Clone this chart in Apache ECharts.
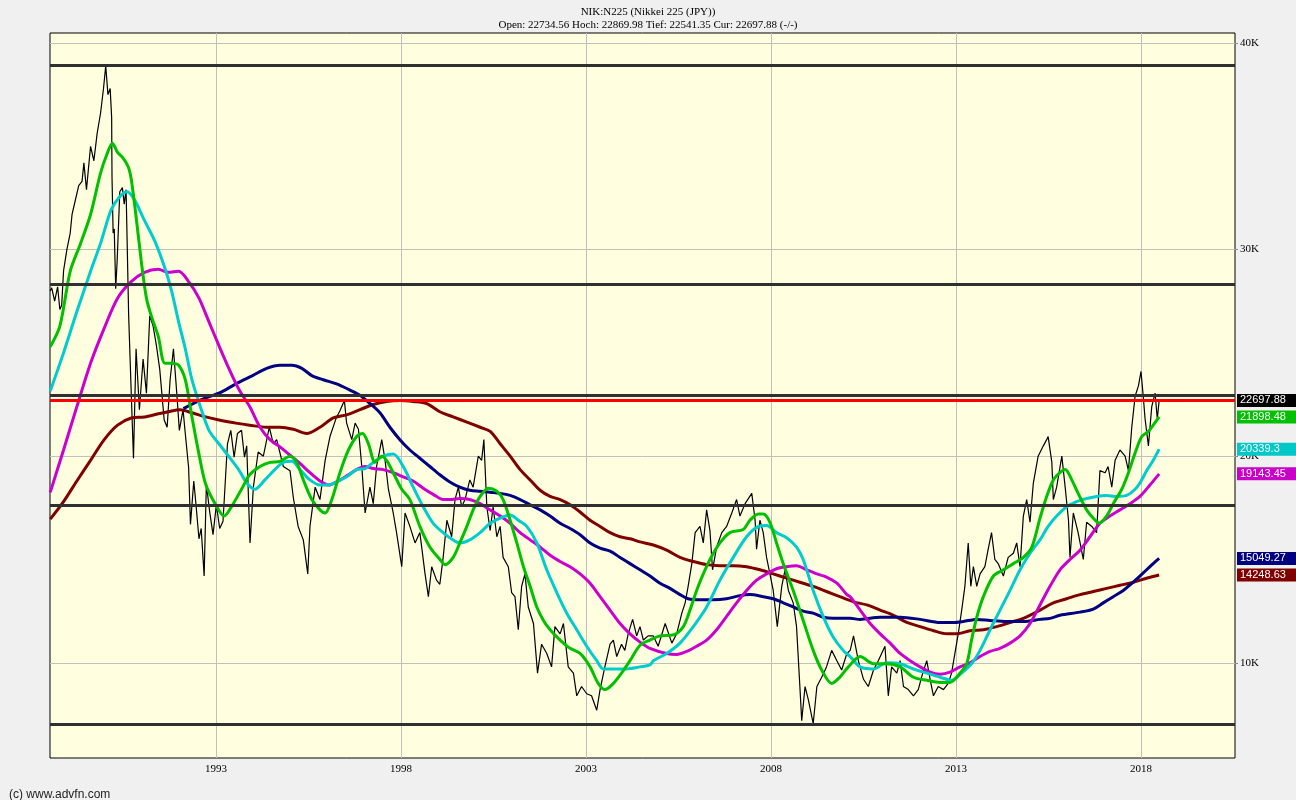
<!DOCTYPE html>
<html><head><meta charset="utf-8">
<script src="https://cdn.jsdelivr.net/npm/echarts@6/dist/echarts.min.js"></script>
<style>html,body{margin:0;padding:0;background:#f0f0f0}#c{width:1296px;height:800px}</style>
</head><body><div id="c"></div>
<script>
// ---- data (years as decimals, values in index points) ----
const xTickYears = [1993, 1998, 2003, 2008, 2013, 2018];
const yTickValues = [10000, 20000, 30000, 40000];
const levelLines = [38916, 28300, 22970, 17640, 7000];
const currentPrice = 22697.88;
const lastLabels = ['22697.88', '21898.48', '20339.3', '19143.45', '15049.27', '14248.63'];
const titleLine1 = 'NIK:N225 (Nikkei 225 (JPY))';
const titleLine2 = 'Open: 22734.56 Hoch: 22869.98 Tief: 22541.35 Cur: 22697.88 (-/-)';

const price = [
[1988.52,28000],[1988.56,28150],[1988.64,27500],[1988.72,28200],[1988.78,27100],[1988.83,27300],[1988.88,28970],[1988.97,30000],[1989.06,30800],[1989.11,31700],[1989.20,32400],[1989.29,33100],[1989.38,33300],[1989.43,34200],[1989.50,32900],[1989.61,35000],[1989.70,34300],[1989.79,35650],[1989.88,36600],[1989.96,37800],[1990.02,38900],[1990.08,37500],[1990.14,37800],[1990.18,36400],[1990.19,33500],[1990.22,30800],[1990.25,31000],[1990.29,28100],[1990.33,29500],[1990.40,32800],[1990.47,33000],[1990.52,32200],[1990.57,32900],[1990.64,26800],[1990.71,23050],[1990.77,19900],[1990.84,25200],[1990.93,22250],[1991.03,24700],[1991.12,23050],[1991.21,26800],[1991.30,26300],[1991.39,25350],[1991.48,24200],[1991.60,21750],[1991.68,21400],[1991.76,23700],[1991.85,25200],[1991.94,23050],[1992.01,21250],[1992.11,22250],[1992.17,21100],[1992.26,19450],[1992.31,16700],[1992.40,18800],[1992.46,17650],[1992.54,16000],[1992.60,16500],[1992.68,14200],[1992.74,18650],[1992.83,17300],[1992.92,16200],[1993.01,17650],[1993.10,16500],[1993.19,16850],[1993.31,20600],[1993.40,21250],[1993.49,19950],[1993.58,21100],[1993.69,21250],[1993.77,19950],[1993.83,20500],[1993.92,15800],[1994.01,18500],[1994.14,20200],[1994.28,20000],[1994.44,21400],[1994.55,20600],[1994.64,20800],[1994.82,19500],[1995.00,19300],[1995.09,18000],[1995.22,16600],[1995.36,15950],[1995.48,14300],[1995.54,16600],[1995.68,18500],[1995.81,17900],[1995.95,19800],[1996.08,20950],[1996.26,21900],[1996.35,22200],[1996.47,22700],[1996.53,21600],[1996.67,20800],[1996.76,21600],[1996.85,21300],[1996.94,19500],[1997.03,17250],[1997.16,18500],[1997.25,17700],[1997.34,19500],[1997.48,20800],[1997.57,19800],[1997.66,18400],[1997.79,17250],[1997.88,16300],[1998.02,14650],[1998.11,17250],[1998.24,16600],[1998.38,15800],[1998.51,16300],[1998.65,14300],[1998.74,13200],[1998.83,14650],[1998.96,14000],[1999.05,13800],[1999.14,15100],[1999.24,16900],[1999.37,16100],[1999.46,17900],[1999.55,18500],[1999.64,17550],[1999.73,17900],[1999.86,18850],[1999.95,18500],[2000.09,20000],[2000.18,19800],[2000.24,20800],[2000.32,17550],[2000.41,16400],[2000.49,17550],[2000.59,16100],[2000.68,16600],[2000.76,15100],[2000.90,14650],[2000.99,13400],[2001.08,13200],[2001.17,11600],[2001.26,13700],[2001.35,14300],[2001.44,12700],[2001.58,11900],[2001.69,9500],[2001.80,10900],[2001.94,10450],[2002.07,9800],[2002.16,11750],[2002.30,11400],[2002.39,11900],[2002.52,9800],[2002.66,9500],[2002.75,8400],[2002.88,8850],[2003.02,8500],[2003.15,8400],[2003.29,7700],[2003.38,8700],[2003.51,9800],[2003.65,10900],[2003.74,11100],[2003.83,10300],[2003.96,10900],[2004.05,10600],[2004.14,11400],[2004.26,12100],[2004.37,11300],[2004.46,11750],[2004.55,11100],[2004.68,11300],[2004.82,11300],[2004.95,10800],[2005.14,11900],[2005.32,10950],[2005.45,11400],[2005.59,12400],[2005.68,12900],[2005.76,13700],[2005.86,14800],[2005.95,16300],[2006.08,16600],[2006.17,15800],[2006.26,17400],[2006.35,16400],[2006.42,14500],[2006.53,15600],[2006.67,16300],[2006.80,16600],[2006.94,17250],[2007.07,17900],[2007.16,17100],[2007.30,17700],[2007.48,18200],[2007.57,16900],[2007.61,15500],[2007.70,16900],[2007.79,16300],[2007.88,15100],[2007.97,14300],[2008.06,13500],[2008.17,11750],[2008.29,13700],[2008.38,14500],[2008.47,13500],[2008.60,12900],[2008.69,11750],[2008.78,8850],[2008.83,7200],[2008.92,8850],[2009.01,8200],[2009.14,7050],[2009.24,8850],[2009.37,9300],[2009.50,9800],[2009.64,10600],[2009.78,10100],[2009.91,9650],[2010.05,10450],[2010.14,10600],[2010.23,11300],[2010.36,10100],[2010.50,9200],[2010.63,8850],[2010.77,9650],[2010.90,10100],[2011.08,10800],[2011.17,8400],[2011.26,9800],[2011.40,9500],[2011.49,10100],[2011.58,8850],[2011.71,8700],[2011.85,8400],[2011.98,8700],[2012.10,9500],[2012.21,10100],[2012.30,9200],[2012.39,8400],[2012.52,8850],[2012.66,8700],[2012.79,9000],[2012.88,9500],[2012.97,10450],[2013.06,11400],[2013.15,12500],[2013.24,13700],[2013.33,15800],[2013.40,13700],[2013.47,14650],[2013.56,13700],[2013.65,14300],[2013.78,14650],[2013.87,15500],[2013.96,16300],[2014.05,15000],[2014.14,14800],[2014.28,14200],[2014.41,15100],[2014.55,15300],[2014.64,15800],[2014.73,14650],[2014.82,17100],[2014.91,17900],[2015.00,16800],[2015.09,18700],[2015.22,20000],[2015.36,20500],[2015.45,20800],[2015.49,20950],[2015.59,19700],[2015.63,17900],[2015.72,18500],[2015.86,20000],[2015.95,18500],[2016.04,16900],[2016.08,15100],[2016.17,17250],[2016.30,16300],[2016.44,15000],[2016.53,16800],[2016.67,16600],[2016.80,16300],[2016.89,19300],[2017.03,19200],[2017.11,19500],[2017.21,18500],[2017.30,19800],[2017.43,20300],[2017.57,20000],[2017.66,19300],[2017.75,21400],[2017.84,22900],[2017.93,23400],[2018.00,24100],[2018.06,22900],[2018.11,21800],[2018.20,20500],[2018.29,22400],[2018.38,23050],[2018.44,21800],[2018.49,22700]
];

const maGreen = [
[1988.52,25300],[1988.78,26300],[1989.06,28950],[1989.34,30300],[1989.61,31700],[1989.88,33700],[1990.07,34700],[1990.20,35150],[1990.34,34700],[1990.48,34450],[1990.63,34000],[1990.71,33400],[1990.84,31600],[1990.98,29450],[1991.12,27650],[1991.25,26800],[1991.44,25800],[1991.62,24500],[1991.80,24500],[1991.99,24400],[1992.17,23700],[1992.35,21900],[1992.54,20100],[1992.72,18650],[1992.99,17650],[1993.22,17100],[1993.45,17650],[1993.72,18500],[1993.91,19100],[1994.19,19500],[1994.46,19700],[1994.73,19750],[1995.00,20000],[1995.18,19700],[1995.36,18850],[1995.59,17900],[1995.81,17400],[1995.95,17250],[1996.13,17900],[1996.35,19200],[1996.58,20300],[1996.80,20950],[1996.96,21100],[1997.12,20600],[1997.30,19700],[1997.48,20000],[1997.61,19800],[1997.79,19200],[1998.02,18400],[1998.24,17900],[1998.51,16600],[1998.78,15600],[1999.05,15000],[1999.19,14750],[1999.41,15100],[1999.59,15800],[1999.78,16600],[1999.95,17400],[2000.14,18050],[2000.36,18450],[2000.59,18300],[2000.76,17900],[2000.95,16900],[2001.13,15800],[2001.31,14650],[2001.49,13700],[2001.67,12700],[2001.85,12050],[2002.03,11600],[2002.30,11100],[2002.57,10700],[2002.84,10450],[2003.11,9800],[2003.33,9000],[2003.51,8700],[2003.74,9000],[2003.96,9500],[2004.19,10100],[2004.46,10850],[2004.73,11100],[2005.00,11300],[2005.36,11350],[2005.63,11750],[2005.81,12550],[2005.99,13500],[2006.17,14300],[2006.35,15000],[2006.62,15800],[2006.89,16300],[2007.25,16450],[2007.43,16900],[2007.66,17200],[2007.79,17200],[2007.97,16800],[2008.15,15800],[2008.33,14800],[2008.60,13500],[2008.87,12050],[2009.14,10600],[2009.37,9650],[2009.64,9000],[2009.86,9300],[2010.09,9800],[2010.41,10300],[2010.77,9950],[2011.13,9950],[2011.49,9800],[2011.85,9300],[2012.21,9150],[2012.57,9050],[2012.84,9050],[2013.11,9500],[2013.29,9950],[2013.42,11100],[2013.56,12200],[2013.74,13200],[2014.01,14200],[2014.28,14500],[2014.55,14800],[2014.82,15100],[2015.05,15600],[2015.27,17000],[2015.45,18050],[2015.63,18850],[2015.81,19200],[2015.95,19350],[2016.13,18850],[2016.30,18200],[2016.53,17400],[2016.71,17000],[2016.87,16750],[2017.07,17100],[2017.25,17700],[2017.48,18400],[2017.66,19200],[2017.84,20150],[2018.02,20950],[2018.20,21200],[2018.33,21500],[2018.49,21898.48]
];

const maCyan = [
[1988.52,23150],[1988.88,25000],[1989.24,27000],[1989.61,28950],[1989.88,30300],[1990.16,31900],[1990.39,32550],[1990.60,32800],[1990.80,32400],[1991.07,31400],[1991.35,30400],[1991.62,29100],[1991.80,28000],[1991.99,26500],[1992.17,25200],[1992.35,23700],[1992.54,22600],[1992.81,21250],[1993.08,20600],[1993.36,19950],[1993.63,19300],[1993.83,18700],[1994.05,18400],[1994.32,18850],[1994.59,19350],[1994.82,19700],[1995.05,19750],[1995.27,19350],[1995.54,18850],[1995.81,18600],[1996.04,18600],[1996.26,18750],[1996.53,19000],[1996.80,19350],[1997.03,19400],[1997.25,19700],[1997.52,20000],[1997.79,20100],[1998.06,19500],[1998.33,18500],[1998.60,17550],[1998.87,16750],[1999.14,16300],[1999.32,16050],[1999.59,15800],[1999.86,15950],[2000.14,16300],[2000.41,16750],[2000.68,17000],[2000.95,17150],[2001.17,16900],[2001.40,16600],[2001.67,15800],[2001.94,14500],[2002.21,13400],[2002.48,12400],[2002.75,11600],[2003.02,10800],[2003.29,10100],[2003.47,9700],[2003.74,9700],[2004.10,9700],[2004.46,9800],[2004.73,9900],[2004.82,10100],[2005.18,10450],[2005.54,10950],[2005.90,11750],[2006.26,12700],[2006.62,14000],[2006.98,15100],[2007.34,16100],[2007.66,16600],[2007.88,16650],[2008.15,16300],[2008.42,16050],[2008.69,15600],[2008.87,15000],[2009.14,13500],[2009.42,12200],[2009.68,11250],[2009.95,10600],[2010.14,10300],[2010.41,9800],[2010.77,9700],[2011.13,10000],[2011.49,9950],[2011.85,9700],[2012.21,9500],[2012.57,9300],[2012.88,9150],[2013.15,9500],[2013.42,9950],[2013.65,10600],[2013.92,11600],[2014.19,12550],[2014.46,13500],[2014.73,14500],[2015.00,15300],[2015.27,15950],[2015.49,16600],[2015.72,17100],[2015.99,17550],[2016.26,17800],[2016.53,17950],[2016.80,18050],[2017.07,18100],[2017.34,18050],[2017.61,18100],[2017.84,18400],[2017.97,18700],[2018.17,19350],[2018.33,19800],[2018.49,20339.3]
];

const maMagenta = [
[1988.52,18250],[1988.88,20300],[1989.24,22400],[1989.61,24500],[1989.98,26200],[1990.34,27650],[1990.71,28450],[1991.07,28900],[1991.44,29050],[1991.71,28900],[1991.99,28950],[1992.26,28450],[1992.54,27650],[1992.81,26500],[1993.08,25350],[1993.36,24200],[1993.63,23200],[1993.91,22400],[1994.19,21400],[1994.46,20800],[1994.73,20450],[1995.00,20050],[1995.27,19650],[1995.54,19200],[1995.81,18800],[1996.04,18600],[1996.31,18800],[1996.58,19100],[1996.85,19400],[1997.03,19500],[1997.25,19400],[1997.52,19350],[1997.79,19200],[1998.06,19000],[1998.33,18800],[1998.60,18450],[1998.87,18150],[1999.14,17900],[1999.32,17900],[1999.59,17950],[1999.86,17900],[2000.14,17700],[2000.41,17400],[2000.68,17100],[2000.95,16750],[2001.22,16300],[2001.49,15950],[2001.76,15600],[2002.03,15200],[2002.30,14900],[2002.57,14650],[2002.84,14300],[2003.11,13850],[2003.38,13200],[2003.65,12550],[2003.92,11900],[2004.19,11400],[2004.46,11000],[2004.73,10700],[2005.18,10450],[2005.45,10400],[2005.72,10550],[2005.99,10800],[2006.26,11100],[2006.53,11600],[2006.80,12250],[2007.07,12900],[2007.34,13500],[2007.61,14000],[2007.88,14300],[2008.15,14550],[2008.42,14650],[2008.69,14700],[2008.96,14500],[2009.24,14300],[2009.50,14150],[2009.78,13850],[2010.05,13300],[2010.14,13200],[2010.41,12550],[2010.68,11900],[2010.95,11400],[2011.22,10950],[2011.49,10450],[2011.76,10100],[2012.03,9800],[2012.30,9550],[2012.57,9450],[2012.84,9550],[2013.11,9800],[2013.38,10000],[2013.65,10300],[2013.92,10550],[2014.19,10700],[2014.46,10950],[2014.73,11300],[2015.00,11900],[2015.27,12800],[2015.54,13700],[2015.81,14500],[2016.08,15000],[2016.35,15450],[2016.62,16100],[2016.89,16750],[2017.16,17100],[2017.43,17400],[2017.70,17700],[2017.97,18050],[2018.24,18600],[2018.49,19143.45]
];

const maNavy = [
[1992.12,22300],[1992.62,22750],[1993.08,23050],[1993.54,23500],[1993.99,23900],[1994.37,24250],[1994.73,24400],[1995.05,24400],[1995.32,24250],[1995.59,23900],[1995.90,23700],[1996.26,23500],[1996.62,23200],[1996.89,22950],[1997.16,22550],[1997.43,22100],[1997.70,21400],[1997.97,20800],[1998.24,20300],[1998.51,19900],[1998.78,19500],[1999.05,19100],[1999.32,18750],[1999.59,18500],[1999.86,18350],[2000.14,18300],[2000.41,18250],[2000.68,18200],[2000.95,18100],[2001.22,17900],[2001.49,17650],[2001.76,17400],[2002.03,17100],[2002.30,16750],[2002.57,16500],[2002.84,16200],[2003.11,15800],[2003.38,15550],[2003.65,15400],[2003.92,15100],[2004.19,14800],[2004.46,14500],[2004.73,14200],[2005.00,13850],[2005.27,13600],[2005.54,13300],[2005.76,13100],[2006.08,13050],[2006.44,13050],[2006.80,13100],[2007.16,13250],[2007.43,13300],[2007.79,13200],[2008.06,13100],[2008.33,12900],[2008.60,12700],[2008.87,12500],[2009.14,12400],[2009.42,12200],[2009.68,12150],[2010.14,12150],[2010.41,12100],[2010.95,12200],[2011.49,12200],[2012.03,12100],[2012.57,11950],[2012.93,11950],[2013.20,12000],[2013.56,12100],[2013.92,12050],[2014.37,12000],[2014.82,12000],[2015.27,12100],[2015.54,12150],[2015.81,12300],[2016.35,12450],[2016.71,12600],[2016.98,12900],[2017.25,13200],[2017.52,13500],[2017.79,13900],[2018.06,14350],[2018.33,14800],[2018.49,15049.27]
];

const maMaroon = [
[1988.52,16950],[1988.88,17800],[1989.24,18800],[1989.61,19800],[1989.98,20800],[1990.34,21500],[1990.71,21850],[1991.07,21900],[1991.44,22050],[1991.71,22150],[1992.03,22250],[1992.35,22100],[1992.72,21900],[1993.08,21750],[1993.54,21600],[1993.91,21500],[1994.37,21400],[1994.73,21400],[1995.09,21300],[1995.45,21100],[1995.81,21400],[1996.17,21850],[1996.53,22000],[1996.89,22250],[1997.25,22500],[1997.61,22650],[1997.97,22700],[1998.33,22650],[1998.69,22550],[1999.05,22150],[1999.41,21900],[1999.78,21650],[2000.14,21400],[2000.41,21200],[2000.68,20600],[2000.95,20000],[2001.22,19350],[2001.49,18850],[2001.76,18350],[2002.03,18050],[2002.30,17900],[2002.57,17650],[2002.84,17300],[2003.11,16900],[2003.38,16600],[2003.65,16300],[2003.92,16100],[2004.19,16000],[2004.46,15850],[2004.82,15700],[2005.18,15450],[2005.54,15100],[2005.90,14900],[2006.26,14750],[2006.62,14700],[2006.98,14700],[2007.34,14650],[2007.70,14500],[2008.06,14300],[2008.42,14100],[2008.78,13900],[2009.14,13700],[2009.50,13450],[2009.86,13200],[2010.23,12950],[2010.59,12800],[2010.95,12550],[2011.31,12300],[2011.67,11950],[2012.03,11750],[2012.39,11550],[2012.75,11400],[2013.02,11400],[2013.38,11550],[2013.74,11600],[2014.10,11750],[2014.46,11950],[2014.82,12150],[2015.27,12550],[2015.63,12900],[2015.99,13100],[2016.35,13300],[2016.71,13450],[2017.07,13600],[2017.43,13750],[2017.79,13900],[2018.17,14100],[2018.49,14248.63]
];

// ---- chart ----
const labelColors = ['#000000', '#00c000', '#00c8c8', '#c800c8', '#000080', '#800000'];
const X_MIN = 1988.514, X_MAX = 2020.54, Y_MIN = 5390, Y_MAX = 40484;
const serif = '"Liberation Serif", "DejaVu Serif", serif';
const sans = '"Liberation Sans", Arial, sans-serif';

const rich = {};
labelColors.forEach((c, i) => {
  rich['k' + i] = {backgroundColor: c, color: '#ffffff', width: 53, height: 13, lineHeight: 13,
    padding: [0, 3, 0, 3], fontSize: 11, fontFamily: sans};
});

function maSeries(data, color) {
  return {type: 'line', data: data, showSymbol: false, smooth: 0.3, z: 3,
    lineStyle: {color: color, width: 3}, silent: true};
}

const chart = echarts.init(document.getElementById('c'), null, {renderer: 'canvas'});
chart.setOption({
  animation: false,
  backgroundColor: '#f0f0f0',
  title: [
    {text: titleLine1, left: 'center', top: 2, textStyle: {fontFamily: serif, fontSize: 11, fontWeight: 'normal', color: '#000'}},
    {text: titleLine2, left: 'center', top: 15, textStyle: {fontFamily: serif, fontSize: 11, fontWeight: 'normal', color: '#000'}},
    {text: '(c) www.advfn.com', left: 4, top: 784, textStyle: {fontFamily: sans, fontSize: 12, fontWeight: 'normal', color: '#222'}}
  ],
  grid: {left: 50, right: 61, top: 33, bottom: 42, show: true, containLabel: false, outerBoundsMode: 'none',
    backgroundColor: '#ffffe0', borderColor: '#000', borderWidth: 1},
  xAxis: {
    type: 'value', min: X_MIN, max: X_MAX,
    axisLine: {show: false},
    axisTick: {show: false, customValues: xTickYears},
    axisLabel: {customValues: xTickYears, formatter: v => String(v), fontFamily: serif, fontSize: 11, color: '#000', margin: 6},
    splitLine: {show: true, lineStyle: {color: '#c0c0c0', width: 1}}
  },
  yAxis: [
    {
      type: 'value', position: 'right', min: Y_MIN, max: Y_MAX,
      axisLine: {show: false},
      axisTick: {show: true, length: 3, customValues: yTickValues, lineStyle: {color: '#888'}},
      axisLabel: {customValues: yTickValues, formatter: v => (v / 1000) + 'K', fontFamily: serif, fontSize: 11, color: '#000', margin: 5},
      splitLine: {show: true, lineStyle: {color: '#c0c0c0', width: 1}}
    },
    {
      type: 'value', position: 'right', min: Y_MIN, max: Y_MAX,
      axisLine: {show: false}, axisTick: {show: false}, splitLine: {show: false},
      axisLabel: {
        customValues: lastLabels.map(Number), margin: 2,
        formatter: function (v) {
          let j = 0, best = Infinity;
          lastLabels.forEach((s, i) => { const d = Math.abs(Number(s) - v); if (d < best) { best = d; j = i; } });
          return '{k' + j + '|' + lastLabels[j] + '}';
        },
        rich: rich
      }
    }
  ],
  series: [
    {type: 'line', data: price, showSymbol: false, z: 2, silent: true,
      lineStyle: {color: '#000', width: 1.2}},
    maSeries(maMaroon, '#800000'),
    maSeries(maNavy, '#000080'),
    maSeries(maMagenta, '#cc00cc'),
    maSeries(maCyan, '#00cccc'),
    maSeries(maGreen, '#00c000'),
    {type: 'line', data: [], z: 4, silent: true,
      markLine: {silent: true, symbol: ['none', 'none'], label: {show: false},
        data: levelLines.map(v => ({yAxis: v, lineStyle: {color: '#303030', width: 3, type: 'solid'}}))
          .concat([{yAxis: currentPrice, lineStyle: {color: '#ff0000', width: 3, type: 'solid'}}])}}
  ]
});
</script>
</body></html>
